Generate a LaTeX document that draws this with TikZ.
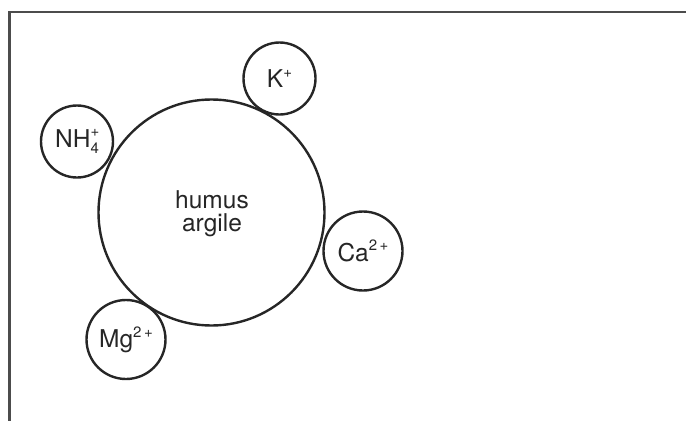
\documentclass[tikz,border=0pt]{standalone}
\usepackage{fontspec}
\setmainfont{TeX Gyre Heros}
\newcommand{\upsc}[1]{\raisebox{0.42em}{\fontsize{15}{15}\selectfont #1}}
\newcommand{\supsub}[2]{\makebox[0.5em][l]{\raisebox{0.45em}{\fontsize{15}{15}\selectfont #1}}\hspace{-0.5em}\raisebox{-0.25em}{\fontsize{15}{15}\selectfont #2}}
\begin{document}
\begin{tikzpicture}[x=1pt,y=-1pt,
  ion/.style={draw=black!85,line width=2.4pt,circle,inner sep=0pt},
  lbl/.style={font=\fontsize{24.5}{26}\selectfont,text=black!85,align=center}]
\useasboundingbox (0,0) rectangle (686,421);
\draw[black!70,line width=2.2pt] (686,12) -- (9.5,12) -- (9.5,421);
\node[ion,minimum size=226pt] (big) at (211.5,212.5) {};
\node[lbl] (txt) at (212,214) {humus\\[-3pt]argile};
\node[ion,minimum size=72pt] (k) at (279.5,78.5) {};
\node[lbl] (kt) at (k) {K\upsc{+}};
\node[ion,minimum size=72pt] (nh) at (77,141.5) {};
\node[lbl] (nht) at (nh) {NH\supsub{+}{4}};
\node[ion,minimum size=79pt] (ca) at (363,251) {};
\node[lbl] (cat) at (ca) {Ca\upsc{2\,+}};
\node[ion,minimum size=79pt] (mg) at (126,339.5) {};
\node[lbl] (mgt) at (mg) {Mg\upsc{2\,+}};
\end{tikzpicture}
\end{document}
